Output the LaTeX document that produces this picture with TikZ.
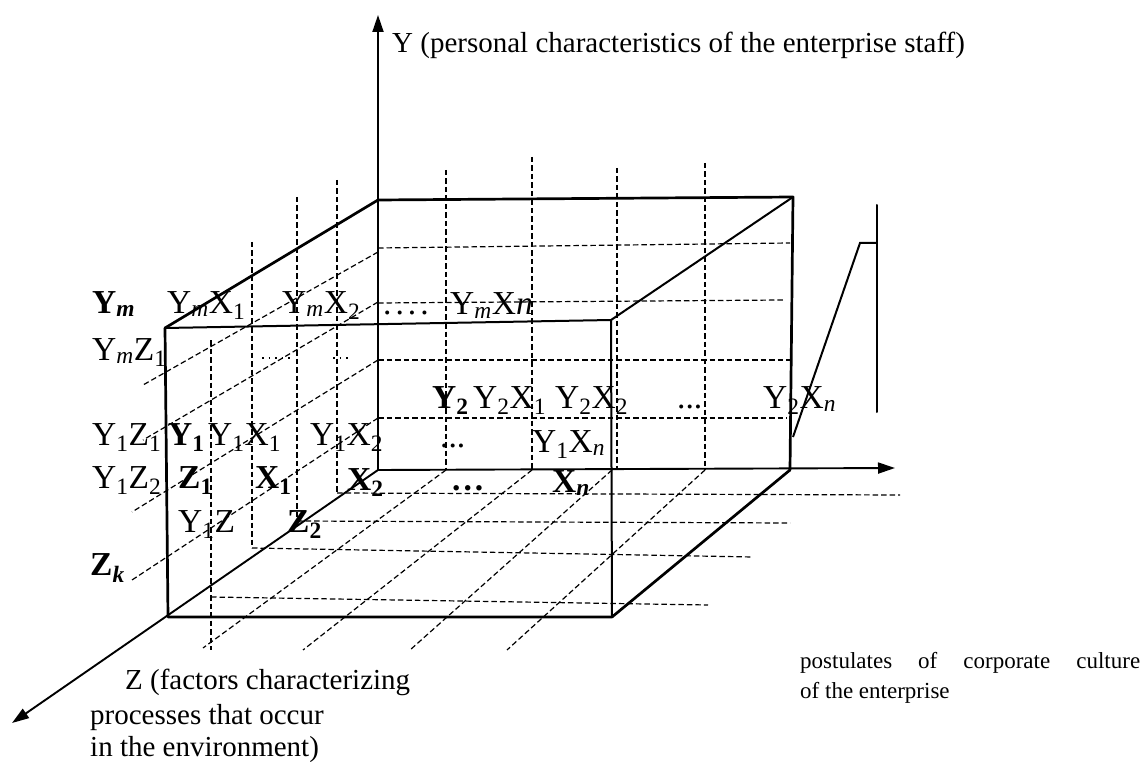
\documentclass[tikz,border=0pt]{standalone}
\usepackage{fontspec}
\setmainfont{Liberation Serif}
\usetikzlibrary{arrows.meta}
\begin{document}
\begin{tikzpicture}[x=1pt,y=-1pt,
  boxedge/.style={line width=2.7pt, line cap=round, line join=round},
  lightedge/.style={line width=2pt, line cap=round},
  axis/.style={line width=1.9pt,-{Triangle[length=17pt,width=11pt]}},
  gridline/.style={line width=1.2pt, dash pattern=on 5.5pt off 3pt},
  dotline/.style={line width=1.4pt, dash pattern=on 1.5pt off 5pt},
  lab/.style={inner sep=0pt, anchor=base west, font=\fontsize{33.5}{38}\selectfont},
  blab/.style={inner sep=0pt, anchor=base west, font=\fontsize{33.5}{38}\selectfont\bfseries},
  captext/.style={inner sep=0pt, anchor=base west, font=\fontsize{29}{34}\selectfont},
  smallcaptext/.style={inner sep=0pt, anchor=base west, font=\fontsize{23}{27}\selectfont},
]
\useasboundingbox (0,0) rectangle (1144,762);

% corners and axis ends
\coordinate (O) at (378,470);
\coordinate (Ytip) at (378,15);
\coordinate (Xtip) at (895,468);
\coordinate (Ztip) at (12,723);
\coordinate (BTL) at (378,200);
\coordinate (BTR) at (793,197);
\coordinate (BBR) at (790,470);
\coordinate (FTL) at (165,328);
\coordinate (FTR) at (611,320);
\coordinate (FBL) at (168,617);
\coordinate (FBR) at (612,617);

% ---- back face: vertical grid lines
\draw[gridline] (446,170) -- (446,470);
\draw[gridline] (532,157) -- (532,470);
\draw[gridline] (617,168) -- (617,470);
\draw[gridline] (705,163) -- (705,470);
% ---- back face: horizontal grid lines
\draw[gridline] (378,248) -- (790,243);
\draw[gridline] (378,303) -- (783,300);
\draw[gridline] (378,360) -- (790,360);
\draw[gridline] (378,418) -- (787,418);
% ---- left face: diagonals
\draw[gridline] (378,252) -- (143,385);
\draw[gridline] (378,302) -- (143,440);
\draw[gridline] (378,360) -- (132,512);
\draw[gridline] (378,418) -- (132,580);
% ---- front-left verticals
\draw[gridline] (337,180) -- (337,493);
\draw[gridline] (297,197) -- (297,521);
\draw[gridline] (252,242) -- (252,548);
\draw[gridline] (211,340) -- (211,650);
% ---- bottom face: horizontals
\draw[gridline] (337,493) -- (900,495);
\draw[gridline] (297,521) -- (790,523);
\draw[gridline] (252,548) -- (753,557);
\draw[gridline] (211,597) -- (708,605);
% ---- bottom face: diagonals
\draw[gridline] (446,470) -- (203,648);
\draw[gridline] (532,470) -- (303,650);
\draw[gridline] (612,470) -- (410,650);
\draw[gridline] (705,470) -- (507,650);
% ---- dotted remnants
\draw[dotline] (262,358) -- (294,358);
\draw[dotline] (333,358) -- (352,358);

% ---- axes
\draw[axis] (O) -- (Ytip);
\draw[axis] (O) -- (Xtip);
\draw[axis] (O) -- (Ztip);

% ---- box edges
\draw[boxedge] (BTL) -- (BTR) -- (BBR);
\draw[boxedge] (BTL) -- (FTL);
\draw[lightedge] (FTL) -- (FTR);
\draw[boxedge] (FTL) -- (FBL) -- (FBR);
\draw[lightedge] (FTR) -- (FBR);
\draw[lightedge] (BTR) -- (FTR);
\draw[boxedge] (BBR) -- (FBR);

% ---- bracket on the right
\coordinate (Ba) at (877,205);
\coordinate (Bb) at (877,412);
\coordinate (Bc) at (877,243);
\coordinate (Bd) at (860,243);
\coordinate (Be) at (793,437);
\draw[lightedge] (Ba) -- (Bb);
\draw[lightedge, line cap=butt] (Bc) -- (Bd) -- (Be);

% ---- grid labels
\node[blab] (ym) at (92,313) {Y\textsubscript{\textbf{\textit{m}}}};
\node[lab] (ymx1) at (167,313) {Y\textsubscript{\textit{m}}X\textsubscript{1}};
\node[lab] (ymx2) at (282,313) {Y\textsubscript{\textit{m}}X\textsubscript{2}};
\node[lab] (dots1) at (383,315) {.\hspace{4pt}.\hspace{4pt}.\hspace{4pt}.};
\node[lab] (ymxn) at (450,315) {Y\textsubscript{\textit{m}}X\textit{n}};
\node[lab] (ymz1) at (92,360) {Y\textsubscript{\textit{m}}Z\textsubscript{1}};
\node[lab] (y1z1) at (92,445) {Y\textsubscript{1}Z\textsubscript{1}};
\node[blab] (y1) at (168,445) {Y\textsubscript{1}};
\node[lab] (y1x1) at (208,445) {Y\textsubscript{1}X\textsubscript{1}};
\node[lab] (y1x2) at (310,445) {Y\textsubscript{1}X\textsubscript{2}};
\node[lab] (dots2) at (440,447) {...};
\node[lab] (y1xn) at (532,452) {Y\textsubscript{1}X\textsubscript{\textit{n}}};
\node[blab] (y2) at (432,408) {Y\textsubscript{2}};
\node[lab] (y2x1) at (473,408) {Y\textsubscript{2}X\textsubscript{1}};
\node[lab] (y2x2) at (555,408) {Y\textsubscript{2}X\textsubscript{2}};
\node[lab] (dots3) at (677,408) {...};
\node[lab] (y2xn) at (763,408) {Y\textsubscript{2}X\textsubscript{\textit{n}}};
\node[lab] (y1z2) at (92,488) {Y\textsubscript{1}Z\textsubscript{2}};
\node[blab] (z1) at (178,488) {Z\textsubscript{1}};
\node[blab] (x1) at (255,488) {X\textsubscript{1}};
\node[blab] (x2) at (347,490) {X\textsubscript{2}};
\node[blab] (dots4) at (452,490) {.\hspace{3pt}.\hspace{3pt}.};
\node[blab] (xn) at (552,492) {X\textsubscript{\textbf{\textit{n}}}};
\node[lab] (y1z) at (178,532) {Y\textsubscript{1}Z};
\node[blab] (z2) at (287,532) {Z\textsubscript{2}};
\node[blab] (zk) at (90,575) {Z\textsubscript{\textbf{\textit{k}}}};

% ---- axis captions
\node[captext] (ycap) at (392,53) {Y (personal characteristics of the enterprise staff)};
\node[captext] (zcap1) at (125,689) {Z (factors characterizing};
\node[captext] (zcap2) at (90,724) {processes that occur};
\node[captext] (zcap3) at (90,756) {in the environment)};
\node[smallcaptext] (xcap1) at (800,668) {\makebox[340pt][s]{postulates of corporate culture}};
\node[smallcaptext] (xcap2) at (800,698) {of the enterprise};
\end{tikzpicture}
\end{document}
